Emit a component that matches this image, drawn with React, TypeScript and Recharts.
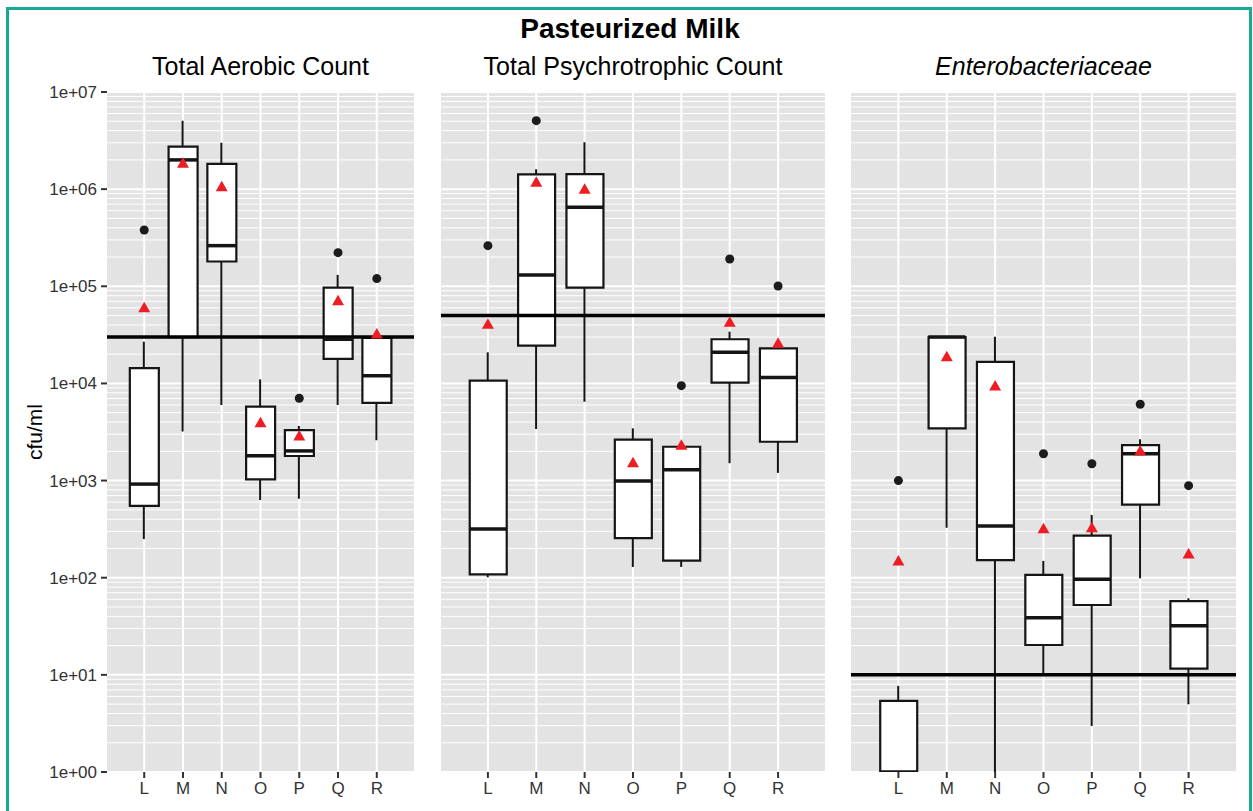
import React from 'react';
import { ComposedChart, Bar, Scatter, XAxis, YAxis, CartesianGrid, ReferenceLine } from 'recharts';

const categories = ['L', 'M', 'N', 'O', 'P', 'Q', 'R'];
const yTicks = [1, 10, 100, 1000, 1e4, 1e5, 1e6, 1e7];
const yTickLabels = ['1e+00', '1e+01', '1e+02', '1e+03', '1e+04', '1e+05', '1e+06', '1e+07'];
const minorMultipliers = [2, 3, 4, 5, 6, 7, 8, 9];

// Total Aerobic Count
const tacLow = [250, 3200, 6000, 630, 650, 6000, 2600];
const tacQ1 = [550, 30000, 180000, 1030, 1790, 17900, 6300];
const tacMedian = [920, 2000000, 262000, 1800, 2020, 28500, 12000];
const tacQ3 = [14400, 2740000, 1820000, 5770, 3300, 96800, 29400];
const tacHigh = [26900, 5070000, 3000000, 11000, 3650, 131000, 30500];
const tacMean = [60200, 1850000, 1060000, 3940, 2880, 71100, 32300];
const tacOutliers = [
    { cat: 'L', value: 380000 },
    { cat: 'P', value: 7030 },
    { cat: 'Q', value: 222000 },
    { cat: 'R', value: 120000 },
];
const tacLimit = 30000;

// Total Psychrotrophic Count
const tpcLow = [101, 3400, 6490, 129, 129, 1510, 1200];
const tpcQ1 = [108, 24500, 96800, 256, 150, 10200, 2510];
const tpcMedian = [318, 131000, 650000, 991, 1290, 20900, 11500];
const tpcQ3 = [10700, 1420000, 1430000, 2640, 2230, 28500, 23000];
const tpcHigh = [20900, 1600000, 3030000, 3450, 2260, 34100, 23000];
const tpcMean = [40600, 1180000, 995000, 1530, 2310, 42600, 25900];
const tpcOutliers = [
    { cat: 'L', value: 262000 },
    { cat: 'M', value: 5070000 },
    { cat: 'P', value: 9480 },
    { cat: 'Q', value: 191000 },
    { cat: 'R', value: 100800 },
];
const tpcLimit = 50000;

// Enterobacteriaceae
const entLow = [1, 327, 1, 10.4, 2.98, 98.6, 4.98];
const entQ1 = [1, 3450, 152, 20.3, 52.4, 565, 11.6];
const entMedian = [1, 30000, 341, 38.7, 96.4, 1890, 32.1];
const entQ3 = [5.4, 30000, 16700, 107, 271, 2320, 57.5];
const entHigh = [7.7, 30000, 30200, 149, 442, 2660, 61.4];
const entMean = [149, 18800, 9410, 320, 327, 2020, 175];
const entOutliers = [
    { cat: 'L', value: 1000 },
    { cat: 'O', value: 1890 },
    { cat: 'P', value: 1490 },
    { cat: 'Q', value: 6100 },
    { cat: 'R', value: 886 },
];
const entLimit = 10;

const minorTicks = yTicks.slice(0, -1).flatMap((d) => minorMultipliers.map((m) => m * d));
const xPositions = categories.map((_, i) => i + 1);

const buildRows = (low: number[], q1: number[], med: number[], q3: number[], high: number[], mean: number[]) =>
    categories.map((cat, i) => ({
        x: i + 1,
        cat,
        whisker: [low[i], high[i]],
        box: [q1[i], q3[i]],
        median: med[i],
        mean: mean[i],
    }));

const buildOutliers = (list: { cat: string; value: number }[]) =>
    list.map((o) => ({ x: categories.indexOf(o.cat) + 1, value: o.value }));

const Triangle = (props: any) => {
    const { cx, cy } = props;
    if (cx == null || cy == null) return null;
    return <polygon points={`${cx},${cy - 6} ${cx - 6},${cy + 4.5} ${cx + 6},${cy + 4.5}`} fill="#ee1d23" />;
};

const Dot = (props: any) => {
    const { cx, cy } = props;
    if (cx == null || cy == null) return null;
    return <circle cx={cx} cy={cy} r={4.5} fill="#1c1c1c" />;
};

interface PanelProps {
    rows: any[];
    outliers: any[];
    limit: number;
    showY: boolean;
    left: number;
    width: number;
    marginLeft: number;
    marginRight: number;
    pad: number;
    boxSize: number;
}

const Panel: React.FC<PanelProps> = ({ rows, outliers, limit, showY, left, width, marginLeft, marginRight, pad, boxSize }) => {
    const domain = [1 - pad, 7 + pad];
    const MedianLine = (props: any) => {
        const { cx, cy } = props;
        if (cx == null || cy == null) return null;
        return <line x1={cx - boxSize / 2} x2={cx + boxSize / 2} y1={cy} y2={cy} stroke="#151515" strokeWidth={3.5} />;
    };
    return (
        <div style={{ position: 'absolute', left, top: 80 }}>
            <ComposedChart width={width} height={722} data={rows} margin={{ top: 12, right: marginRight, bottom: 0, left: marginLeft }}>
                <CartesianGrid fill="#e3e3e3" stroke="#ffffff" strokeWidth={1} vertical={false} horizontalValues={minorTicks} />
                <CartesianGrid stroke="#ffffff" strokeWidth={2} horizontalValues={yTicks} verticalValues={xPositions} />
                <XAxis
                    dataKey="x"
                    type="number"
                    domain={domain}
                    allowDataOverflow
                    ticks={xPositions}
                    interval={0}
                    tickFormatter={(v: number) => categories[v - 1]}
                    axisLine={false}
                    tickLine={{ stroke: '#333', strokeWidth: 2 }}
                    tickSize={6}
                    tickMargin={4}
                    height={30}
                    tick={{ fontSize: 17, fill: '#333' }}
                />
                <XAxis xAxisId="w" dataKey="x" type="number" domain={domain} allowDataOverflow hide />
                <YAxis
                    type="number"
                    scale="log"
                    domain={[1, 1e7]}
                    allowDataOverflow
                    ticks={yTicks}
                    interval={0}
                    hide={!showY}
                    width={107}
                    tickFormatter={(v: number) => yTickLabels[yTicks.indexOf(v)]}
                    axisLine={false}
                    tickLine={{ stroke: '#333', strokeWidth: 2 }}
                    tickSize={6}
                    tickMargin={4}
                    tick={{ fontSize: 17, fill: '#333' }}
                />
                <Bar xAxisId="w" dataKey="whisker" barSize={2} fill="#151515" isAnimationActive={false} />
                <Bar dataKey="box" barSize={boxSize} fill="#ffffff" stroke="#151515" strokeWidth={2.2} isAnimationActive={false} />
                <Scatter dataKey="median" shape={MedianLine} isAnimationActive={false} />
                <Scatter dataKey="mean" shape={Triangle} isAnimationActive={false} />
                <Scatter data={outliers} dataKey="value" shape={Dot} isAnimationActive={false} />
                <ReferenceLine y={limit} stroke="#000000" strokeWidth={3.5} />
            </ComposedChart>
        </div>
    );
};

const App: React.FC = () => {
    const tacRows = buildRows(tacLow, tacQ1, tacMedian, tacQ3, tacHigh, tacMean);
    const tpcRows = buildRows(tpcLow, tpcQ1, tpcMedian, tpcQ3, tpcHigh, tpcMean);
    const entRows = buildRows(entLow, entQ1, entMedian, entQ3, entHigh, entMean);

    const titleStyle: React.CSSProperties = {
        position: 'absolute',
        top: 54,
        fontSize: 25,
        lineHeight: '25px',
        textAlign: 'center',
        color: '#000',
        whiteSpace: 'nowrap',
    };

    return (
        <div
            style={{
                position: 'absolute',
                left: 0,
                top: 0,
                width: 1253,
                height: 811,
                overflow: 'hidden',
                background: '#ffffff',
                fontFamily: '"Liberation Sans", Arial, sans-serif',
            }}
        >
            <div
                style={{
                    position: 'absolute',
                    left: 6,
                    top: 7,
                    width: 1246,
                    height: 830,
                    border: '3px solid #17a996',
                    boxSizing: 'border-box',
                }}
            />
            <div
                style={{
                    position: 'absolute',
                    left: 0,
                    width: 1260,
                    top: 15,
                    fontSize: 28,
                    lineHeight: '28px',
                    fontWeight: 'bold',
                    textAlign: 'center',
                    color: '#000',
                }}
            >
                Pasteurized Milk
            </div>
            <div style={{ ...titleStyle, left: 107, width: 307 }}>Total Aerobic Count</div>
            <div style={{ ...titleStyle, left: 441, width: 384 }}>Total Psychrotrophic Count</div>
            <div style={{ ...titleStyle, left: 851, width: 385, fontStyle: 'italic' }}>Enterobacteriaceae</div>
            <div
                style={{
                    position: 'absolute',
                    left: 34,
                    top: 432,
                    fontSize: 21,
                    lineHeight: '21px',
                    color: '#000',
                    transform: 'translate(-50%, -50%) rotate(-90deg)',
                    whiteSpace: 'nowrap',
                }}
            >
                cfu/ml
            </div>
            <Panel rows={tacRows} outliers={buildOutliers(tacOutliers)} limit={tacLimit} showY left={0} width={420} marginLeft={0} marginRight={6} pad={0.96} boxSize={29} />
            <Panel rows={tpcRows} outliers={buildOutliers(tpcOutliers)} limit={tpcLimit} showY={false} left={430} width={400} marginLeft={11} marginRight={5} pad={0.97} boxSize={37} />
            <Panel rows={entRows} outliers={buildOutliers(entOutliers)} limit={entLimit} showY={false} left={840} width={400} marginLeft={11} marginRight={4} pad={0.98} boxSize={37} />
        </div>
    );
};

export default App;
